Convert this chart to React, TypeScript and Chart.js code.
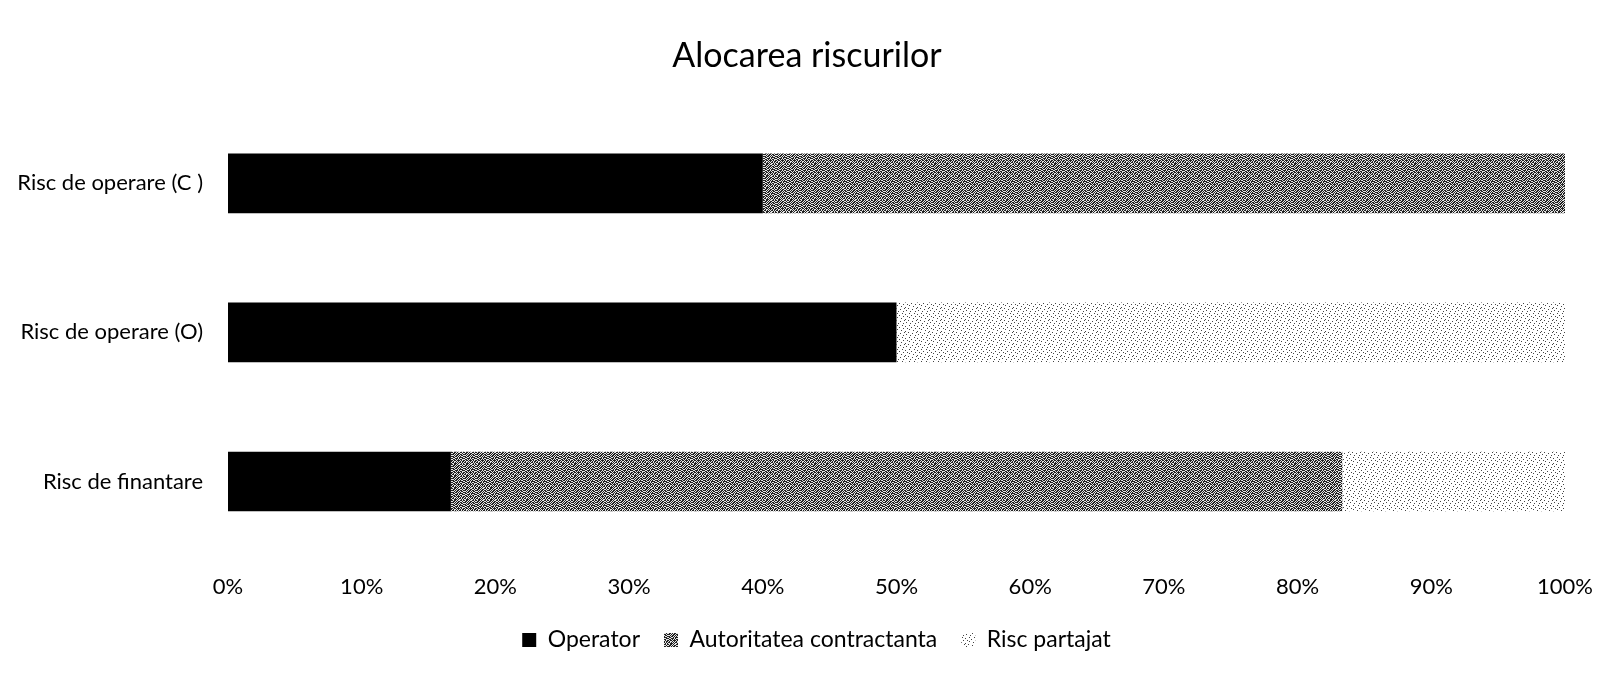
import React, { useEffect, useRef } from "react";
import { Chart, registerables } from "chart.js";

Chart.register(...registerables);

const categories = ["Risc de operare (C )", "Risc de operare (O)", "Risc de finantare"];
const operatorValues = [40, 50, 16.67];
const autoritateaValues = [60, 0, 66.67];
const partajatValues = [0, 50, 16.67];
const xTickValues = [0, 10, 20, 30, 40, 50, 60, 70, 80, 90, 100];

const FONT = "Lato, 'Open Sans', sans-serif";

const AUT_TILE = [
  "101101001101",
  "011010110010",
  "110101101101",
  "001011010110",
  "110110101001",
  "011001011110",
  "100111010011",
  "011010101100",
  "101101110101",
  "010010101011",
  "110101011010",
  "001110100101",
];
const PART_TILE = [
  "100000001000",
  "000010000000",
  "000000000010",
  "001000010000",
  "000000000000",
  "010000100000",
  "000000000100",
  "000100000000",
  "000000010001",
  "010000000000",
  "000001000000",
  "000000000100",
];

function makePattern(tile: string[], on: string, off: string) {
  const c = document.createElement("canvas");
  const h = tile.length;
  const w = tile[0].length;
  c.width = w;
  c.height = h;
  const ctx = c.getContext("2d")!;
  ctx.fillStyle = off;
  ctx.fillRect(0, 0, w, h);
  ctx.fillStyle = on;
  for (let y = 0; y < h; y++) {
    for (let x = 0; x < w; x++) {
      if (tile[y][x] === "1") ctx.fillRect(x, y, 1, 1);
    }
  }
  const p = ctx.createPattern(c, "repeat");
  return p || on;
}

const LEGEND_BOX_HEIGHT = 64;
const LEGEND_TOP = 596.5;
const LEGEND_SHIFT_X = 30;
const TITLE_SHIFT_X = 20.5;

const placement = {
  id: "placement",
  afterInit(chart: any) {
    const l = chart.legend;
    if (!l) return;
    const orig = l.fit.bind(l);
    l.fit = function () {
      orig();
      this.height = LEGEND_BOX_HEIGHT;
    };
  },
  afterLayout(chart: any) {
    const l = chart.legend;
    if (l) {
      l.top = LEGEND_TOP;
      l.bottom = LEGEND_TOP + l.height;
      l.left += LEGEND_SHIFT_X;
      l.right += LEGEND_SHIFT_X;
    }
    const t = chart.titleBlock;
    if (t) {
      t.left += TITLE_SHIFT_X;
      t.right += TITLE_SHIFT_X;
    }
  },
};

export default function App() {
  const ref = useRef<HTMLCanvasElement | null>(null);

  useEffect(() => {
    if (!ref.current) return;
    const autPattern = makePattern(AUT_TILE, "#222222", "#e4e4e4");
    const partPattern = makePattern(PART_TILE, "#444444", "#ffffff");
    const chart = new Chart(ref.current, {
      type: "bar",
      data: {
        labels: categories,
        datasets: [
          {
            label: "Operator",
            data: operatorValues,
            backgroundColor: "#000000",
            borderWidth: 0,
            categoryPercentage: 1,
            barPercentage: 0.4,
          },
          {
            label: "Autoritatea contractanta",
            data: autoritateaValues,
            backgroundColor: autPattern as any,
            borderWidth: 0,
            categoryPercentage: 1,
            barPercentage: 0.4,
          },
          {
            label: "Risc partajat",
            data: partajatValues,
            backgroundColor: partPattern as any,
            borderWidth: 0,
            categoryPercentage: 1,
            barPercentage: 0.4,
          },
        ],
      },
      plugins: [placement],
      options: {
        indexAxis: "y",
        animation: false,
        responsive: true,
        maintainAspectRatio: false,
        layout: { padding: { left: 0, right: 34, top: 0, bottom: 0 } },
        scales: {
          x: {
            stacked: true,
            min: 0,
            max: 100,
            afterBuildTicks: (axis: any) => {
              axis.ticks = xTickValues.map((v) => ({ value: v }));
            },
            afterFit: (s: any) => {
              s.height = 45;
              s.paddingLeft = 0;
              s.paddingRight = 0;
            },
            grid: { display: false, drawTicks: false },
            border: { display: false },
            ticks: {
              padding: 18,
              color: "#000",
              maxRotation: 0,
              font: { family: FONT, size: 22 },
              callback: (v: any) => v + "%",
            },
          },
          y: {
            stacked: true,
            grid: { display: false, drawTicks: false },
            border: { display: false },
            afterFit: (s: any) => {
              s.width = 220;
            },
            ticks: {
              padding: 25,
              color: "#000",
              font: { family: FONT, size: 22 },
            },
          },
        },
        plugins: {
          title: {
            display: true,
            text: "Alocarea riscurilor",
            color: "#000",
            font: { family: FONT, size: 34, weight: "normal" },
            padding: { top: 28, bottom: 32 },
          },
          legend: {
            position: "bottom",
            labels: {
              color: "#000",
              font: { family: FONT, size: 23 },
              boxWidth: 14,
              boxHeight: 14,
              padding: 24,
            },
          },
          tooltip: { enabled: false },
        },
      },
    });
    return () => chart.destroy();
  }, []);

  return (
    <div style={{ width: 1591, height: 657, position: "relative" }}>
      <canvas ref={ref} />
    </div>
  );
}
